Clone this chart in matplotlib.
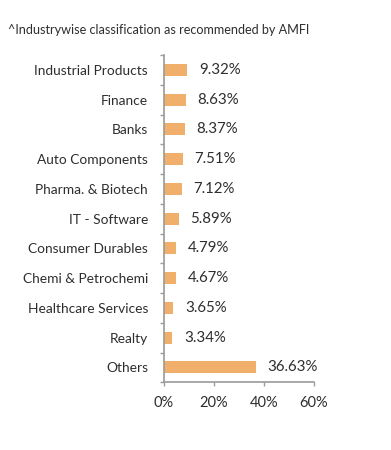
import matplotlib.pyplot as plt
import numpy as np
from matplotlib.ticker import FixedLocator, PercentFormatter

plt.rcParams['font.family'] = ['Lato', 'DejaVu Sans']

industries = ["Industrial Products", "Finance", "Banks", "Auto Components",
              "Pharma. & Biotech", "IT - Software", "Consumer Durables",
              "Chemi & Petrochemi", "Healthcare Services", "Realty", "Others"]
weights = [9.32, 8.63, 8.37, 7.51, 7.12, 5.89, 4.79, 4.67, 3.65, 3.34, 36.63]

bar_color = "#F0B06B"
axis_gray = "#9A9A9A"
text_col = "#2E2E2E"

fig = plt.figure(figsize=(3.91, 4.5), dpi=100)
ax = fig.add_axes([0.4194, 0.1504, 0.3837, 0.7274])

y = np.arange(len(industries))
ax.barh(y, weights, height=0.4, color=bar_color)
for yi, w in zip(y, weights):
    ax.annotate(f"{w:.2f}%", (w, yi), xytext=(8.5, 0), textcoords="offset points",
                ha="left", va="center", fontsize=10.8, color=text_col)

ax.set_ylim(len(industries) - 0.5, -0.5)
ax.set_xlim(0, 60)
ax.set_yticks(y, industries)
ax.yaxis.set_minor_locator(FixedLocator(np.arange(-0.5, len(industries), 1.0)))
ax.set_xticks([0, 20, 40, 60])
ax.xaxis.set_major_formatter(PercentFormatter(decimals=0))

ax.tick_params(axis="y", which="major", length=0, pad=11.5, labelsize=9.9, labelcolor=text_col)
ax.tick_params(axis="y", which="minor", length=3, width=1, color=axis_gray, direction="out")
ax.tick_params(axis="x", length=3, width=1, color=axis_gray, pad=7, labelsize=10.5, labelcolor=text_col)

for side in ["top", "right"]:
    ax.spines[side].set_visible(False)
for side in ["left", "bottom"]:
    ax.spines[side].set_color(axis_gray)
    ax.spines[side].set_linewidth(1.2)

fig.text(0.02, 0.933, "^Industrywise classification as recommended by AMFI",
         fontsize=9.1, color=text_col, va="center", ha="left")

plt.savefig("out.png", dpi=100)
